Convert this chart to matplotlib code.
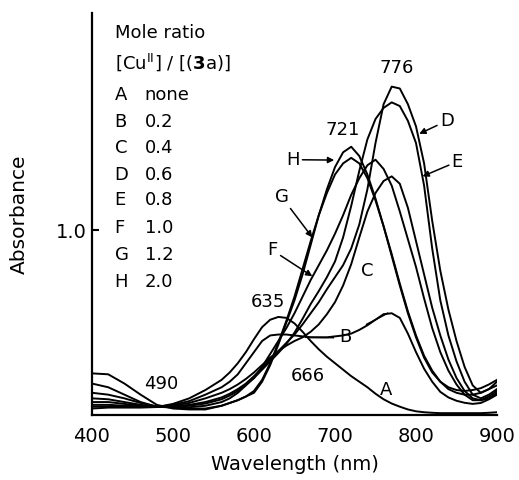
import numpy as np
import matplotlib.pyplot as plt

# wavelengths (nm)
wl = [400, 420, 440, 460, 480, 500, 520, 540, 560,
      570, 580, 590, 600, 610, 620, 630, 640, 650, 660,
      670, 680, 690, 700, 710, 720, 730, 740, 750, 760,
      770, 780, 790, 800, 810, 820, 830, 840, 850, 860,
      870, 880, 890, 900]

# absorbance
abs_A = [0.035, 0.04, 0.04, 0.04, 0.043, 0.06, 0.09, 0.135, 0.19,
         0.23, 0.28, 0.34, 0.41, 0.475, 0.515, 0.53, 0.525, 0.495, 0.45,
         0.40, 0.355, 0.315, 0.28, 0.245, 0.21, 0.18, 0.15, 0.115, 0.085,
         0.062, 0.045, 0.03, 0.02, 0.015, 0.012, 0.01, 0.01, 0.01, 0.01,
         0.01, 0.01, 0.012, 0.015]
abs_B = [0.045, 0.047, 0.047, 0.045, 0.043, 0.055, 0.075, 0.11, 0.15,
         0.18, 0.22, 0.28, 0.34, 0.40, 0.43, 0.435, 0.435, 0.43, 0.425,
         0.42, 0.42, 0.42, 0.425, 0.43, 0.44, 0.46, 0.485, 0.515, 0.545,
         0.55, 0.525, 0.44, 0.34, 0.25, 0.18, 0.125, 0.095, 0.077, 0.066,
         0.06, 0.065, 0.085, 0.11]
abs_C = [0.055, 0.055, 0.05, 0.047, 0.043, 0.05, 0.065, 0.09, 0.12,
         0.14, 0.165, 0.195, 0.23, 0.27, 0.31, 0.345, 0.375, 0.40, 0.42,
         0.45, 0.49, 0.545, 0.61, 0.70, 0.815, 0.96, 1.10, 1.20, 1.265,
         1.29, 1.25, 1.12, 0.94, 0.76, 0.58, 0.43, 0.30, 0.20, 0.13,
         0.09, 0.08, 0.09, 0.12]
abs_D = [0.07, 0.07, 0.06, 0.05, 0.044, 0.045, 0.055, 0.07, 0.095,
         0.115, 0.14, 0.17, 0.21, 0.255, 0.30, 0.345, 0.39, 0.435, 0.49,
         0.55, 0.61, 0.68, 0.745, 0.81, 0.90, 1.03, 1.22, 1.47, 1.68,
         1.775, 1.765, 1.68, 1.56, 1.36, 1.05, 0.78, 0.57, 0.40, 0.26,
         0.16, 0.12, 0.14, 0.18]
abs_E = [0.09, 0.085, 0.07, 0.055, 0.045, 0.045, 0.05, 0.062, 0.085,
         0.105, 0.13, 0.165, 0.20, 0.245, 0.29, 0.335, 0.385, 0.445, 0.52,
         0.60, 0.67, 0.745, 0.83, 0.96, 1.13, 1.32, 1.49, 1.60, 1.66,
         1.69, 1.67, 1.59, 1.47, 1.24, 0.90, 0.62, 0.43, 0.29, 0.18,
         0.11, 0.09, 0.11, 0.14]
abs_F = [0.12, 0.11, 0.09, 0.065, 0.046, 0.042, 0.042, 0.05, 0.07,
         0.09, 0.12, 0.16, 0.20, 0.26, 0.33, 0.40, 0.47, 0.55, 0.64,
         0.73, 0.81, 0.89, 0.98, 1.08, 1.19, 1.28, 1.35, 1.38, 1.33,
         1.24, 1.10, 0.95, 0.80, 0.63, 0.47, 0.34, 0.24, 0.165, 0.11,
         0.08, 0.08, 0.10, 0.13]
abs_G = [0.17, 0.15, 0.11, 0.07, 0.045, 0.04, 0.035, 0.035, 0.05,
         0.065, 0.08, 0.10, 0.13, 0.19, 0.28, 0.39, 0.51, 0.64, 0.79,
         0.94, 1.08, 1.20, 1.30, 1.36, 1.39, 1.36, 1.28, 1.16, 1.02,
         0.87, 0.71, 0.56, 0.43, 0.32, 0.24, 0.18, 0.14, 0.12, 0.11,
         0.11, 0.12, 0.14, 0.16]
abs_H = [0.225, 0.22, 0.17, 0.11, 0.055, 0.035, 0.03, 0.03, 0.05,
         0.065, 0.08, 0.10, 0.12, 0.18, 0.27, 0.38, 0.50, 0.62, 0.76,
         0.92, 1.08, 1.22, 1.34, 1.42, 1.45, 1.40, 1.30, 1.17, 1.02,
         0.86, 0.70, 0.55, 0.42, 0.31, 0.23, 0.18, 0.15, 0.135, 0.13,
         0.135, 0.145, 0.165, 0.19]

series = [abs_A, abs_B, abs_C, abs_D, abs_E, abs_F, abs_G, abs_H]
letters = ['A', 'B', 'C', 'D', 'E', 'F', 'G', 'H']
ratios = ['none', '0.2', '0.4', '0.6', '0.8', '1.0', '1.2', '2.0']

fig = plt.figure(figsize=(5.19, 4.8), dpi=100)
ax = fig.add_axes([92 / 519, 65 / 480, 405 / 519, 402 / 480])

for y in series:
    ax.plot(wl, y, color='black', lw=1.4, solid_joinstyle='round')

ax.set_xlim(400, 900)
ax.set_ylim(0, 2.173)
ax.set_xticks([400, 500, 600, 700, 800, 900])
ax.set_yticks([1.0])
ax.set_yticklabels(['1.0'])
ax.tick_params(axis='x', length=0, labelsize=14, pad=9)
ax.tick_params(axis='y', direction='in', length=5, width=1.5, labelsize=14, pad=4)
for s in ['top', 'right']:
    ax.spines[s].set_visible(False)
for s in ['left', 'bottom']:
    ax.spines[s].set_linewidth(1.6)

ax.set_xlabel('Wavelength (nm)', fontsize=14, labelpad=6)
ax.set_ylabel('Absorbance', fontsize=14.5, labelpad=19)

# legend text block
fs = 13
ax.text(428, 2.065, 'Mole ratio', fontsize=fs, va='center')
ax.text(428, 1.908, r'[Cu$^{\mathrm{II}}$] / [($\mathbf{3}$a)]', fontsize=fs, va='center')
row_y = [1.73, 1.584, 1.443, 1.297, 1.162, 1.011, 0.865, 0.719]
for yy, l, r in zip(row_y, letters, ratios):
    ax.text(428, yy, l, fontsize=fs, va='center')
    ax.text(465, yy, r, fontsize=fs, va='center')

# peak / isosbestic labels
ax.text(776, 1.876, '776', fontsize=fs, ha='center', va='center')
ax.text(709, 1.54, '721', fontsize=fs, ha='center', va='center')
ax.text(617, 0.61, '635', fontsize=fs, ha='center', va='center')
ax.text(486, 0.17, '490', fontsize=fs, ha='center', va='center')
ax.text(666, 0.21, '666', fontsize=fs, ha='center', va='center')

# curve labels
ax.text(763, 0.135, 'A', fontsize=fs, ha='center', va='center')
ax.text(713, 0.42, 'B', fontsize=fs, ha='center', va='center')
ax.text(740, 0.78, 'C', fontsize=fs, ha='center', va='center')

arw = dict(arrowstyle='-|>', color='black', lw=1.1, mutation_scale=9, shrinkA=0, shrinkB=0)
ax.annotate('D', xy=(804, 1.52), xytext=(838, 1.59), fontsize=fs, ha='center', va='center',
            arrowprops=arw)
ax.annotate('E', xy=(808, 1.29), xytext=(851, 1.37), fontsize=fs, ha='center', va='center',
            arrowprops=arw)
ax.annotate('H', xy=(699, 1.378), xytext=(648, 1.38), fontsize=fs, ha='center', va='center',
            arrowprops=arw)
ax.annotate('G', xy=(672, 0.96), xytext=(634, 1.18), fontsize=fs, ha='center', va='center',
            arrowprops=arw)
ax.annotate('F', xy=(672, 0.75), xytext=(623, 0.89), fontsize=fs, ha='center', va='center',
            arrowprops=arw)

# leader lines for B
ax.plot([664, 698], [0.42, 0.418], color='black', lw=1.1)
ax.plot([739, 765], [0.49, 0.55], color='black', lw=1.1)

plt.savefig('out.png', dpi=100)
